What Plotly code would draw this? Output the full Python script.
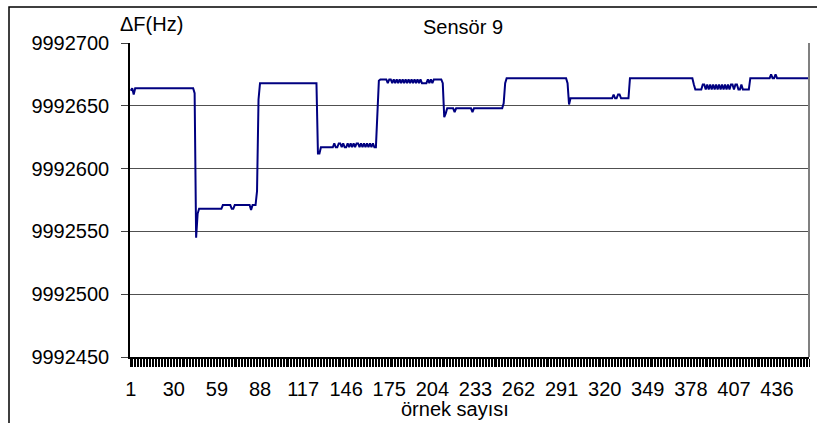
import plotly.graph_objects as go

# Run-length description of the signal (value in Hz, number of samples)
seg_values = [
    9992662, 9992664, 9992659, 9992664, 9992660, 9992545, 9992564, 9992568,
    9992571, 9992568, 9992571, 9992567, 9992571, 9992582, 9992655, 9992668,
    9992612, 9992617,
    # noisy 617/620 block
    9992620, 9992617, 9992620, 9992617, 9992620, 9992617, 9992620, 9992617,
    9992620, 9992617, 9992620, 9992617, 9992620, 9992617, 9992620, 9992617,
    9992620, 9992617, 9992620, 9992617, 9992620, 9992617, 9992620, 9992617,
    9992640, 9992670,
    # noisy 668/671 block
    9992671, 9992668, 9992671,
    9992668, 9992671, 9992668, 9992671, 9992668, 9992671, 9992668, 9992671,
    9992668, 9992671, 9992668, 9992671, 9992668, 9992671, 9992668, 9992671,
    9992668, 9992671, 9992668, 9992671,
    9992668, 9992671, 9992668, 9992671, 9992668, 9992671,
    9992668, 9992641, 9992644, 9992648, 9992645, 9992648, 9992645, 9992648,
    9992652, 9992668, 9992672, 9992668, 9992651, 9992656, 9992659, 9992656,
    9992659, 9992656, 9992672, 9992667, 9992663,
    # noisy 663/667 block
    9992667, 9992663, 9992667, 9992663, 9992667, 9992663, 9992667, 9992663,
    9992667, 9992663, 9992667, 9992663, 9992667, 9992663, 9992667, 9992663,
    9992667, 9992663, 9992667, 9992663, 9992667, 9992663, 9992667,
    9992663, 9992672, 9992675, 9992672, 9992675, 9992672,
]
seg_counts = [
    1, 1, 1, 40, 1, 1, 1, 16,
    6, 2, 11, 1, 3, 1, 1, 39,
    2, 9,
    1, 2, 2, 1, 1, 2, 1, 1,
    1, 1, 1, 1, 2, 1, 1, 1,
    1, 1, 1, 1, 1, 1, 1, 2,
    1, 1,
    5, 1, 2,
    1, 1, 1, 1, 1, 1, 1, 1,
    1, 1, 1, 1, 1, 1, 1, 1,
    1, 1, 1, 1,
    4, 1, 1, 1, 1, 6,
    1, 1, 1, 5, 1, 11, 1, 20,
    1, 1, 41, 1, 1, 29, 1, 2,
    2, 6, 43, 1, 5,
    2, 1, 1, 1, 1, 1, 1, 1,
    1, 1, 1, 1, 1, 1, 1, 1,
    1, 1, 2, 1, 2, 2, 1,
    5, 14, 1, 2, 1, 22,
]

values = []
for v, c in zip(seg_values, seg_counts):
    values.extend([v] * c)
samples = list(range(1, len(values) + 1))

y_ticks = [9992450, 9992500, 9992550, 9992600, 9992650, 9992700]

FONT = "Liberation Sans, Arial, sans-serif"

fig = go.Figure()
fig.add_trace(go.Scatter(
    x=samples, y=values, mode="lines",
    line=dict(color="#000080", width=2),
    showlegend=False, hoverinfo="skip",
))

n = len(values)
fig.update_layout(
    width=817, height=423,
    margin=dict(l=130, r=8, t=43, b=66),
    paper_bgcolor="white", plot_bgcolor="white",
    font=dict(family=FONT, size=20, color="black"),
    xaxis=dict(
        range=[0.5, n + 0.5],
        tick0=1, dtick=29,
        ticks="outside", ticklen=8, tickcolor="rgba(0,0,0,0)",
        ticklabelstandoff=5,
        showgrid=False, zeroline=False,
        showline=True, linecolor="black", linewidth=1.5,
        minor=dict(tick0=0.5, dtick=1, ticks="outside", ticklen=8,
                   tickcolor="black", tickwidth=1, showgrid=False),
        tickfont=dict(size=20),
    ),
    yaxis=dict(
        range=[9992450, 9992700],
        tickvals=y_ticks, ticktext=[str(v) for v in y_ticks],
        ticks="outside", ticklen=7, tickcolor="#404040",
        ticklabelstandoff=8,
        showgrid=True, gridcolor="#505050", gridwidth=1.2,
        zeroline=False,
        showline=True, linecolor="black", linewidth=1.5,
        tickfont=dict(size=20),
    ),
    shapes=[
        dict(type="line", xref="paper", yref="paper", x0=1, x1=1, y0=0, y1=1,
             line=dict(color="#808080", width=2)),
        dict(type="rect", xref="paper", yref="paper",
             x0=(9 - 130) / 679, x1=(830 - 130) / 679,
             y0=-(440 - 357) / 314, y1=1 + (43 - 7) / 314,
             line=dict(color="black", width=1.5), layer="below"),
    ],
    annotations=[
        dict(text="ΔF(Hz)", xref="paper", yref="paper",
             x=(118 - 130) / 679, y=1 + (43 - 24) / 314,
             xanchor="left", yanchor="middle", showarrow=False,
             font=dict(size=20)),
        dict(text="Sensör 9", xref="paper", yref="paper",
             x=(463 - 130) / 679, y=1 + (43 - 27) / 314,
             xanchor="center", yanchor="middle", showarrow=False,
             font=dict(size=20)),
        dict(text="örnek sayısı", xref="paper", yref="paper",
             x=(455 - 130) / 679, y=-(409 - 357) / 314,
             xanchor="center", yanchor="middle", showarrow=False,
             font=dict(size=20)),
    ],
)

fig.write_html("out.html")
